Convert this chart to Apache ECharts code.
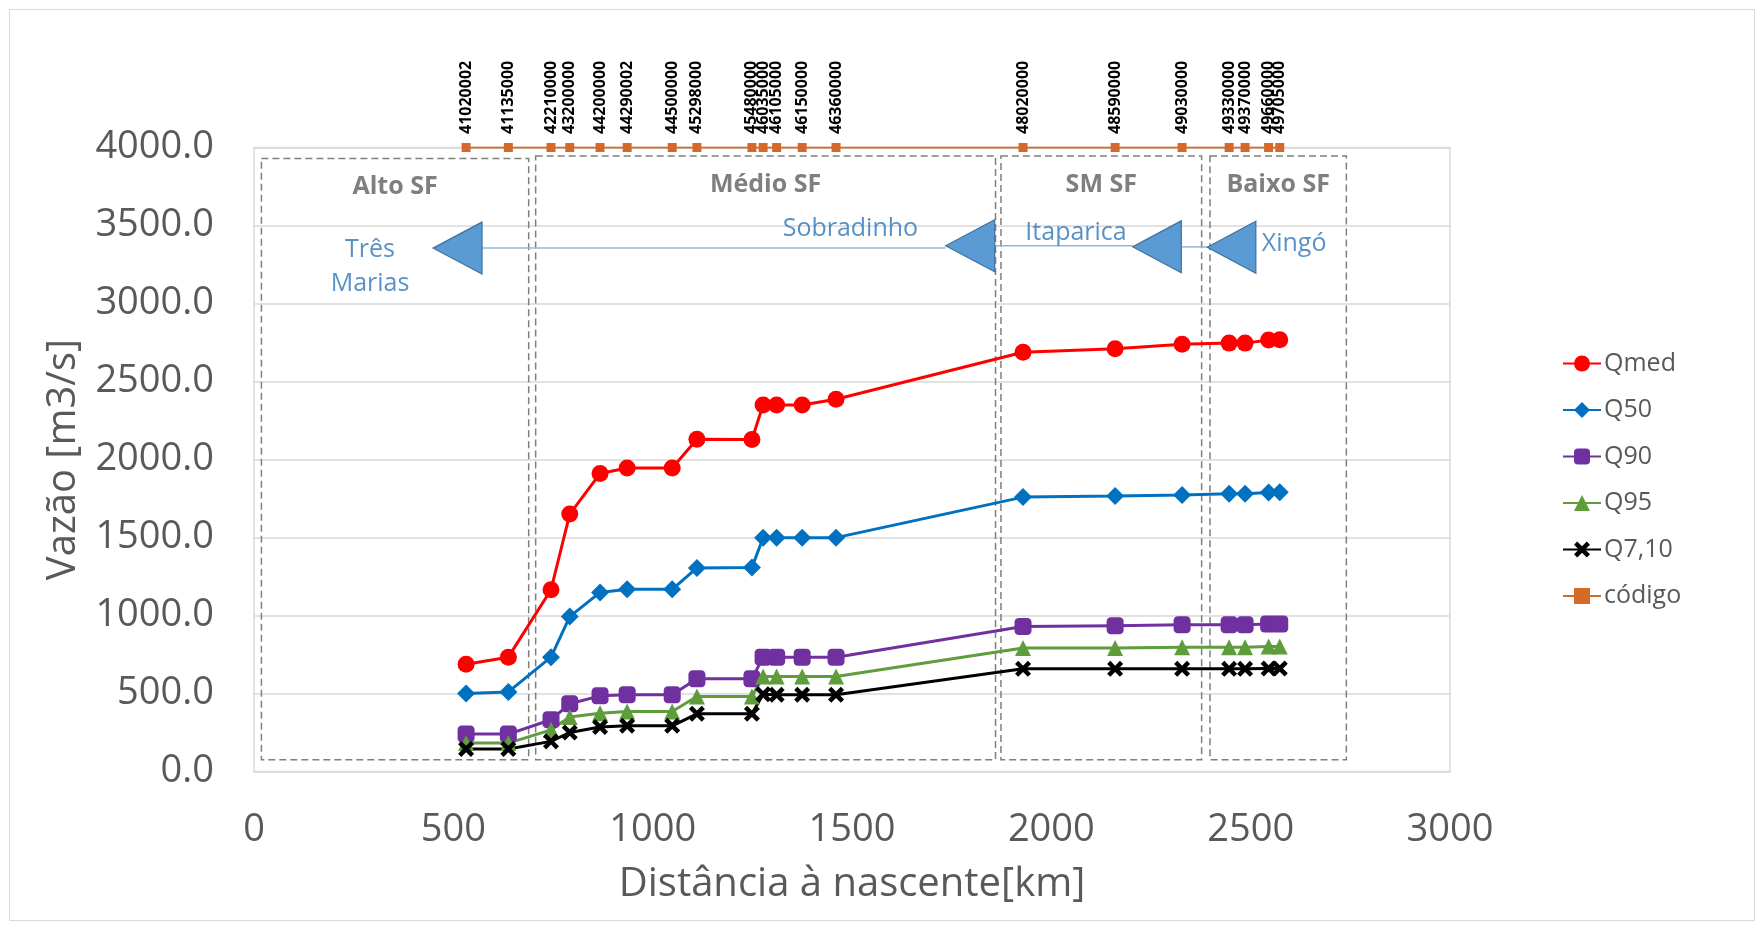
<!DOCTYPE html>
<html>
<head>
<meta charset="utf-8">
<script src="https://cdn.jsdelivr.net/npm/echarts@6/dist/echarts.min.js"></script>
<style>
html,body{margin:0;padding:0;background:#fff;}
#chart{width:1764px;height:930px;}
</style>
</head>
<body>
<div id="chart"></div>
<script>
// ---- data ----
const distKm = [532, 638, 745, 792, 868, 936, 1049, 1111, 1249, 1277, 1311, 1375, 1460, 1929, 2160, 2328, 2446, 2486, 2545, 2573];
const codes = ['41020002','41135000','42210000','43200000','44200000','44290002','44500000','45298000','45480000','46035000','46105000','46150000','46360000','48020000','48590000','49030000','49330000','49370000','49660000','49705000'];
const qmed = [688, 733, 1165, 1650, 1910, 1946, 1946, 2130, 2128, 2350, 2350, 2350, 2386, 2688, 2710, 2739, 2746, 2746, 2766, 2768];
const q50  = [500, 510, 733, 993, 1148, 1168, 1168, 1305, 1308, 1499, 1499, 1499, 1499, 1759, 1766, 1773, 1780, 1780, 1788, 1790];
const q90  = [240, 240, 332, 434, 485, 492, 492, 594, 594, 733, 733, 733, 733, 929, 935, 940, 940, 940, 946, 946];
const q95  = [182, 182, 267, 349, 374, 385, 385, 481, 481, 609, 609, 609, 609, 791, 791, 797, 797, 797, 801, 801];
const q710 = [144, 144, 193, 250, 285, 293, 293, 370, 370, 495, 492, 492, 492, 658, 658, 658, 658, 658, 660, 660];
const codeLevel = 4000;

const seriesNames = ['Qmed', 'Q50', 'Q90', 'Q95', 'Q7,10', 'código'];
const yTicks = [0, 500, 1000, 1500, 2000, 2500, 3000, 3500, 4000];
const xTicks = [0, 500, 1000, 1500, 2000, 2500, 3000];

// region boxes (km / m3/s)
const regionNames = ['Alto SF', 'Médio SF', 'SM SF', 'Baixo SF'];
const regionX0 = [18.6, 706.5, 1873.6, 2398];
const regionX1 = [689, 1860, 2377, 2740];
const regionTop = [3930, 3946, 3946, 3946];
const regionBottom = [75, 75, 75, 75];

// reservoirs: arrow tip, arrow base, line tail (km) and level (m3/s)
const arrowTip  = [449, 1735, 2204, 2391];
const arrowBase = [572, 1858, 2326, 2513];
const arrowTail = [1735, 2204, 2391, 2513];
const arrowY    = [3355, 3370, 3363, 3360];
const reservoirNames = ['Três\nMarias', 'Sobradinho', 'Itaparica', 'Xingó'];
const reservoirX = [291, 1496, 2062, 2609];
const reservoirY = [3236, 3481, 3453, 3385];

// ---- chart ----
const FONT = 'Open Sans';
const pair = arr => arr.map((v, i) => [distKm[i], v]);
const xMark = 'path://M2,0 L5,3 L8,0 L10,2 L7,5 L10,8 L8,10 L5,7 L2,10 L0,8 L3,5 L0,2 Z';

function lineSeries(name, data, color, symbol, size) {
  return {
    name: name, type: 'line', data: pair(data),
    symbol: symbol, symbolSize: size,
    lineStyle: {color: color, width: 3},
    itemStyle: {color: color},
    z: 5
  };
}

const chart = echarts.init(document.getElementById('chart'), null, {renderer: 'canvas'});
const option = {
  backgroundColor: '#ffffff',
  animation: false,
  textStyle: {fontFamily: FONT},
  graphic: [{
    type: 'rect', silent: true,
    shape: {x: 9.5, y: 9.5, width: 1745, height: 911},
    style: {fill: 'none', stroke: '#d9d9d9', lineWidth: 1}
  }],
  grid: {left: 254, top: 147.5, right: 314, bottom: 158.5, show: true, borderColor: '#d9d9d9', borderWidth: 1.5, backgroundColor: 'transparent'},
  legend: {
    orient: 'vertical', left: 1557, top: 346,
    itemWidth: 38, itemHeight: 20, itemGap: 21.5,
    data: seriesNames,
    textStyle: {fontFamily: FONT, fontSize: 25, color: '#595959', padding: [0, 0, 0, -2]}
  },
  xAxis: {
    type: 'value', min: xTicks[0], max: xTicks[xTicks.length - 1], interval: 500,
    name: 'Distância à nascente[km]', nameLocation: 'middle', nameGap: 93,
    nameTextStyle: {fontFamily: FONT, fontSize: 40, color: '#595959'},
    axisLine: {show: false}, axisTick: {show: false}, splitLine: {show: false},
    axisLabel: {fontFamily: FONT, fontSize: 38, color: '#595959', margin: 40, formatter: v => String(v)}
  },
  yAxis: {
    type: 'value', min: yTicks[0], max: yTicks[yTicks.length - 1], interval: 500,
    name: 'Vazão [m3/s]', nameLocation: 'middle', nameGap: 170, nameRotate: 90,
    nameTextStyle: {fontFamily: FONT, fontSize: 40, color: '#595959'},
    axisLine: {show: false}, axisTick: {show: false},
    splitLine: {lineStyle: {color: '#d9d9d9', width: 1.5}},
    axisLabel: {fontFamily: FONT, fontSize: 38, color: '#595959', margin: 40, formatter: v => v.toFixed(1)}
  },
  series: [
    {
      name: 'regions', type: 'line', data: [], silent: true, z: 1,
      markArea: {
        silent: true,
        itemStyle: {color: 'rgba(0,0,0,0)', borderColor: '#7f7f7f', borderWidth: 1.5, borderType: [7, 4]},
        label: {show: true, position: 'insideTop', distance: 17, fontFamily: FONT, fontWeight: 'bold', fontSize: 25, color: '#7f7f7f'},
        data: regionNames.map((n, i) => [
          {name: n, coord: [regionX0[i], regionTop[i]]},
          {coord: [regionX1[i], regionBottom[i]]}
        ])
      }
    },
    {
      name: 'reservoirs', type: 'custom', silent: true, z: 3,
      data: arrowTip.map((t, i) => [t, arrowBase[i], arrowTail[i], arrowY[i]]),
      renderItem: function (params, api) {
        const y = api.value(3);
        const tip = api.coord([api.value(0), y]);
        const base = api.coord([api.value(1), y]);
        const tail = api.coord([api.value(2), y]);
        const half = 26;
        const children = [];
        if (tail[0] - base[0] > 1) {
          children.push({type: 'line', shape: {x1: base[0], y1: base[1], x2: tail[0], y2: tail[1]},
            style: {stroke: '#8fb7e3', lineWidth: 1.5}});
        }
        children.push({type: 'polygon', shape: {points: [tip, [base[0], base[1] - half], [base[0], base[1] + half]]},
          style: {fill: '#5b9bd5', stroke: '#41719c', lineWidth: 1.2}});
        return {type: 'group', children: children};
      }
    },
    {
      name: 'reservoirNames', type: 'scatter', silent: true, z: 4,
      symbolSize: 0,
      data: reservoirNames.map((n, i) => ({name: n, value: [reservoirX[i], reservoirY[i]]})),
      label: {show: true, position: 'inside', formatter: '{b}', fontFamily: FONT, fontSize: 25, lineHeight: 34, color: '#2e75b6', align: 'center'}
    },
    lineSeries('Qmed', qmed, '#ff0000', 'circle', 17),
    lineSeries('Q50', q50, '#0070c0', 'diamond', 18),
    lineSeries('Q90', q90, '#7030a0', 'roundRect', 17),
    lineSeries('Q95', q95, '#5e9c3c', 'triangle', 16),
    lineSeries('Q7,10', q710, '#000000', xMark, 16),
    {
      name: 'código', type: 'line',
      data: distKm.map((x, i) => ({value: [x, codeLevel], name: codes[i]})),
      symbol: 'rect', symbolSize: 9,
      lineStyle: {color: '#d5692a', width: 2},
      itemStyle: {color: '#d5692a'},
      z: 6,
      label: {
        show: true, position: 'top', distance: 9, rotate: 90,
        align: 'left', verticalAlign: 'middle',
        formatter: '{b}', fontFamily: FONT, fontSize: 16, fontWeight: 'bold', color: '#000000'
      }
    }
  ]
};
chart.setOption(option);
</script>
</body>
</html>
